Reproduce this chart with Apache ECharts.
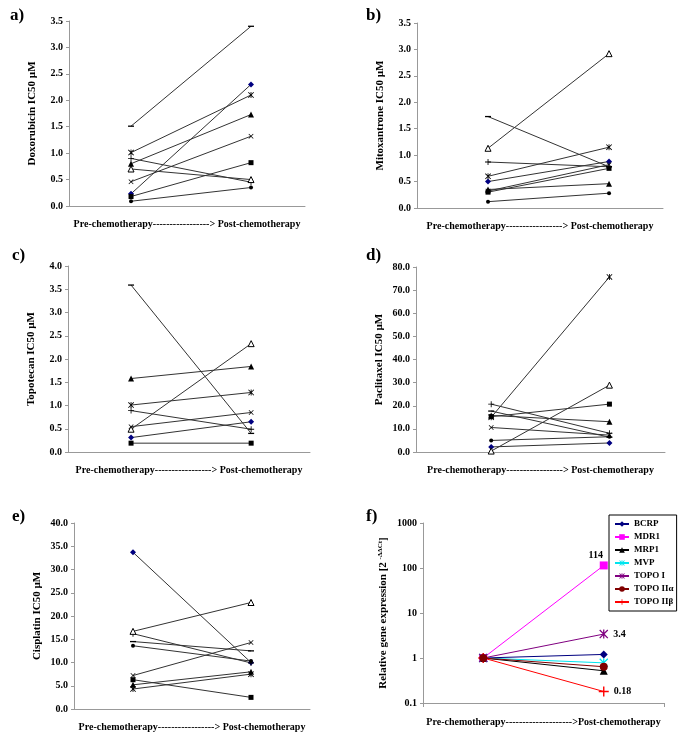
<!DOCTYPE html>
<html><head><meta charset="utf-8">
<script src="https://cdn.jsdelivr.net/npm/echarts@6/dist/echarts.min.js"></script>
<style>html,body{margin:0;padding:0;background:#fff}#c{width:685px;height:734px}</style>
</head><body><div id="c"></div>
<script>
// ---- data ----
const stages = ['Pre-chemotherapy', 'Post-chemotherapy'];
const stageX = [1, 2];
// series order: diamond, square, triangle, x, star, circle, plus, dash, open triangle
const doxoPre  = [0.23, 0.18, 0.80, 0.46, 1.01, 0.09, 0.90, 1.51, 0.70];
const doxoPost = [2.30, 0.82, 1.73, 1.32, 2.10, 0.35, 0.45, 3.40, 0.50];
const mitoPre  = [0.50, 0.30, 0.35, 0.32, 0.60, 0.12, 0.87, 1.73, 1.13];
const mitoPost = [0.88, 0.75, 0.46, 0.82, 1.15, 0.28, 0.78, 0.78, 2.92];
const topoPre  = [0.31, 0.19, 1.58, 0.545, 1.01, null, 0.89, 3.59, 0.49];
const topoPost = [0.65, 0.19, 1.84, 0.85, 1.28, null, 0.49, 0.40, 2.33];
const pacliPre  = [2.2, 15.3, 15.8, 10.6, 15.0, 5.0, 20.7, 17.7, 0.4];
const pacliPost = [3.9, 20.7, 13.1, 7.3, 75.7, 6.6, 8.1, 6.4, 28.9];
const cisPre  = [33.7, 6.3, 5.2, 7.2, 4.3, 13.6, 16.2, 14.5, 16.7];
const cisPost = [10.0, 2.5, 8.0, 14.3, 7.5, 10.3, 9.9, 12.5, 22.9];
const genes = ['BCRP', 'MDR1', 'MRP1', 'MVP', 'TOPO I', 'TOPO II\u03b1', 'TOPO II\u03b2'];
const genePre  = [1, 1, 1, 1, 1, 1, 1];
const genePost = [1.2, 114, 0.52, 0.78, 3.4, 0.64, 0.18];
const geneLabels = [null, '114', null, null, '3.4', null, '0.18'];
const yAxisTitles = ['Doxorubicin IC50 \u00b5M', 'Mitoxantrone IC50 \u00b5M', 'Topotecan IC50 \u00b5M',
  'Paclitaxel IC50 \u00b5M', 'Cisplatin IC50 \u00b5M'];
const panelLetters = ['a)', 'b)', 'c)', 'd)', 'e)', 'f)'];

// ---- styles ----
const FONT = '"Liberation Serif", "Times New Roman", serif';
const P_X = 'path://M0,1 L1,0 L5,4 L9,0 L10,1 L6,5 L10,9 L9,10 L5,6 L1,10 L0,9 L4,5 Z';
const P_PLUS = 'path://M4.3,0 H5.7 V4.3 H10 V5.7 H5.7 V10 H4.3 V5.7 H0 V4.3 H4.3 Z';
const P_STAR = 'path://M0,1 L1,0 L4.3,3.3 V0 H5.7 V3.3 L9,0 L10,1 L6,5 L10,9 L9,10 L5.7,6.7 V10 H4.3 V6.7 L1,10 L0,9 L4,5 Z';
const markers = [
  {symbol: 'diamond', size: 6, color: '#000080'},
  {symbol: 'rect', size: 5, color: '#000'},
  {symbol: 'triangle', size: 6, color: '#000'},
  {symbol: P_X, size: 5, color: '#000'},
  {symbol: P_STAR, size: 6, color: '#000'},
  {symbol: 'circle', size: 4, color: '#000'},
  {symbol: P_PLUS, size: 6, color: '#000'},
  {symbol: 'rect', size: [6, 1.3], color: '#000'},
  {symbol: 'triangle', size: 6, color: '#fff', border: '#000'}
];
const geneStyles = [
  {color: '#000080', symbol: 'diamond', size: 8},
  {color: '#ff00ff', symbol: 'rect', size: 8},
  {color: '#000000', symbol: 'triangle', size: 8},
  {color: '#00e5ee', symbol: P_STAR, size: 9},
  {color: '#800080', symbol: P_STAR, size: 9},
  {color: '#800000', symbol: 'circle', size: 8},
  {color: '#ff0000', symbol: P_PLUS, size: 10}
];

const panels = [
  {pre: doxoPre, post: doxoPost, max: 3.5, interval: 0.5, dec: 1, grid: {left: 69, top: 21, width: 236, height: 185}, xr: [0.483, 2.45]},
  {pre: mitoPre, post: mitoPost, max: 3.5, interval: 0.5, dec: 1, grid: {left: 417, top: 23, width: 246, height: 185}, xr: [0.413, 2.446]},
  {pre: topoPre, post: topoPost, max: 4.0, interval: 0.5, dec: 1, grid: {left: 68, top: 266, width: 242, height: 186}, xr: [0.475, 2.49]},
  {pre: pacliPre, post: pacliPost, max: 80, interval: 10, dec: 1, grid: {left: 416, top: 267, width: 249, height: 185}, xr: [0.364, 2.47]},
  {pre: cisPre, post: cisPost, max: 40, interval: 5, dec: 1, grid: {left: 74, top: 523, width: 236, height: 186}, xr: [0.5, 2.5]}
];
const fGrid = {left: 423, top: 523, width: 241, height: 180};

const axisLabelStyle = {fontFamily: FONT, fontWeight: 'bold', fontSize: 10, color: '#000'};
const xTitle = 'Pre-chemotherapy-----------------> Post-chemotherapy';
const grids = [], xAxes = [], yAxes = [], series = [];

panels.forEach((p, i) => {
  grids.push(p.grid);
  xAxes.push({
    type: 'value', gridIndex: i, min: p.xr[0], max: p.xr[1],
    axisLine: {show: true, onZero: false, lineStyle: {color: '#999', width: 1}},
    axisTick: {show: false}, axisLabel: {show: false}, splitLine: {show: false},
    name: xTitle, nameLocation: 'middle', nameGap: 13,
    nameTextStyle: {fontFamily: FONT, fontWeight: 'bold', fontSize: 10, color: '#000'}
  });
  yAxes.push({
    type: 'value', gridIndex: i, min: 0, max: p.max, interval: p.interval,
    axisLine: {show: true, lineStyle: {color: '#999', width: 1}},
    axisTick: {show: true, length: 3, lineStyle: {color: '#999'}},
    axisLabel: Object.assign({formatter: v => v.toFixed(p.dec), margin: 6}, axisLabelStyle),
    splitLine: {show: false},
    name: yAxisTitles[i], nameLocation: 'middle', nameGap: 31,
    nameTextStyle: {fontFamily: FONT, fontWeight: 'bold', fontSize: 11, color: '#000'}
  });
  p.pre.forEach((v, k) => {
    if (v == null) return;
    const m = markers[k];
    series.push({
      type: 'line', xAxisIndex: i, yAxisIndex: i,
      data: [[stageX[0], v], [stageX[1], p.post[k]]],
      symbol: m.symbol, symbolSize: m.size, showSymbol: true,
      lineStyle: {color: '#333', width: 1},
      itemStyle: {color: m.color, borderColor: m.border || m.color, borderWidth: m.border ? 1 : 0},
      silent: true, animation: false
    });
  });
});

// panel f
grids.push(fGrid);
xAxes.push({
  type: 'category', gridIndex: 5, data: stages, boundaryGap: true,
  axisLine: {show: true, lineStyle: {color: '#999', width: 1}},
  axisTick: {show: true, length: 4, lineStyle: {color: '#999'}},
  axisLabel: {show: false}, splitLine: {show: false},
  name: 'Pre-chemotherapy-------------------->Post-chemotherapy', nameLocation: 'middle', nameGap: 14,
  nameTextStyle: {fontFamily: FONT, fontWeight: 'bold', fontSize: 10, color: '#000'}
});
yAxes.push({
  type: 'log', logBase: 10, gridIndex: 5, min: 0.1, max: 1000,
  axisLine: {show: true, lineStyle: {color: '#999', width: 1}},
  axisTick: {show: true, length: 3, lineStyle: {color: '#999'}},
  axisLabel: Object.assign({formatter: v => String(v), margin: 6}, axisLabelStyle),
  splitLine: {show: false},
  name: 'Relative gene expression [2 {sup|-\u0394\u0394Ct}]', nameLocation: 'middle', nameGap: 33,
  nameTextStyle: {fontFamily: FONT, fontWeight: 'bold', fontSize: 11, color: '#000',
    rich: {sup: {fontFamily: FONT, fontWeight: 'bold', fontSize: 7, verticalAlign: 'top', padding: [0, 0, 6, 0]}}}
});
genes.forEach((g, k) => {
  const st = geneStyles[k];
  series.push({
    name: g, type: 'line', xAxisIndex: 5, yAxisIndex: 5,
    data: [
      {value: genePre[k]},
      {value: genePost[k], label: geneLabels[k] ? {
        show: true, formatter: geneLabels[k],
        position: k === 1 ? 'top' : 'right', offset: k === 1 ? [-8, 4] : [0, 0],
        fontFamily: FONT, fontWeight: 'bold', fontSize: 10, color: '#000'} : {show: false}}
    ],
    symbol: st.symbol, symbolSize: st.size,
    lineStyle: {color: st.color, width: 1},
    itemStyle: {color: st.color},
    z: k === 5 ? 5 : 3,
    animation: false
  });
});

const graphics = [];
const letterPos = [[10, 7], [366, 7], [12, 247], [366, 247], [12, 508], [366, 508]];
panelLetters.forEach((t, i) => graphics.push({
  type: 'text', left: letterPos[i][0], top: letterPos[i][1],
  style: {text: t, fontFamily: FONT, fontWeight: 'bold', fontSize: 17, fill: '#000'}
}));

const chart = echarts.init(document.getElementById('c'), null, {renderer: 'canvas'});
chart.setOption({
  backgroundColor: '#fff',
  animation: false,
  grid: grids, xAxis: xAxes, yAxis: yAxes, series: series,
  legend: {
    data: genes, orient: 'vertical', left: 609, top: 515,
    backgroundColor: '#fff', borderColor: '#000', borderWidth: 1,
    padding: [3, 3, 3, 5], itemGap: 1, itemWidth: 14, itemHeight: 7,
    textStyle: {fontFamily: FONT, fontWeight: 'bold', fontSize: 9, color: '#000', lineHeight: 12},
    selectedMode: false
  },
  graphic: graphics
});
</script></body></html>
